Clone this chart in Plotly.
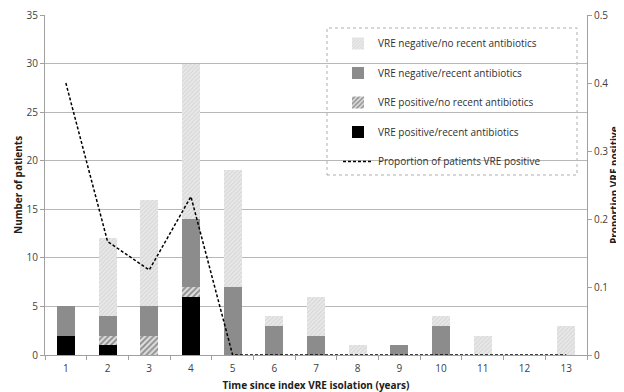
import plotly.graph_objects as go

years = ["1", "2", "3", "4", "5", "6", "7", "8", "9", "10", "11", "12", "13"]
pos_recent = [2, 1, 0, 6, 0, 0, 0, 0, 0, 0, 0, 0, 0]
pos_norecent = [0, 1, 2, 1, 0, 0, 0, 0, 0, 0, 0, 0, 0]
neg_recent = [3, 2, 3, 7, 7, 3, 2, 0, 1, 3, 0, 0, 0]
neg_norecent = [0, 8, 11, 16, 12, 1, 4, 1, 0, 1, 2, 0, 3]
prop_pos = [0.4, 0.167, 0.125, 0.233, 0, 0, 0, 0, 0, 0, 0, 0, 0]

FONT = "Open Sans"
OFF = 8  # default page body margin
W, H = 624 - OFF, 392 - OFF
# plot area in page pixels: x 45..587, y 15..355
L = 45 - OFF
T = 15 - OFF
R = W - (587 - OFF)
B = H - (355 - OFF)
PW, PH = W - L - R, H - T - B


def px_x(x):
    return (x - OFF - L) / PW


def px_y(y):
    return (H - B - (y - OFF)) / PH


fig = go.Figure()

fig.add_trace(go.Bar(
    x=years, y=pos_recent, name="VRE positive/recent antibiotics",
    marker=dict(color="#000000", line=dict(width=0)), legendrank=4, legendgroup="d"))
fig.add_trace(go.Bar(
    x=years, y=pos_norecent, name="VRE positive/no recent antibiotics",
    marker=dict(color="#dcdcdc", line=dict(width=0),
                pattern=dict(shape="/", fgcolor="#3a3a3a", bgcolor="#dcdcdc", size=4, solidity=0.45)),
    legendrank=3, legendgroup="c"))
fig.add_trace(go.Bar(
    x=years, y=neg_recent, name="VRE negative/recent antibiotics",
    marker=dict(color="#8c8c8c", line=dict(width=0)), legendrank=2, legendgroup="b"))
fig.add_trace(go.Bar(
    x=years, y=neg_norecent, name="VRE negative/no recent antibiotics",
    marker=dict(color="#e4e4e4", line=dict(width=0),
                pattern=dict(shape="/", fgcolor="#bdbdbd", bgcolor="#e8e8e8", size=3, solidity=0.3)),
    legendrank=1, legendgroup="a"))
fig.add_trace(go.Scatter(
    x=years, y=prop_pos, yaxis="y2", mode="lines",
    name="Proportion of patients VRE positive",
    line=dict(color="#000000", width=1.5, dash="3px,2px"), legendrank=5, legendgroup="e"))

fig.update_layout(
    width=W, height=H,
    margin=dict(l=L, r=R, t=T, b=B, autoexpand=False),
    paper_bgcolor="white", plot_bgcolor="white",
    barmode="stack", bargap=0.57,
    font=dict(family=FONT, size=10, color="#404040"),
    showlegend=True,
    legend=dict(x=px_x(338), y=px_y(29), xanchor="left", yanchor="top",
                bgcolor="rgba(0,0,0,0)", borderwidth=0,
                font=dict(size=10, color="#303030"), tracegroupgap=10.5,
                itemwidth=30),
    shapes=[dict(type="rect", xref="paper", yref="paper",
                 x0=px_x(327), x1=px_x(577), y0=px_y(175), y1=px_y(28),
                 line=dict(color="#b0b0b0", width=1, dash="dot"),
                 fillcolor="white", layer="below")],
    xaxis=dict(type="category", showline=True, linecolor="#a0a0a0", linewidth=1,
               ticks="outside", tickson="boundaries", ticklen=4, tickcolor="#a0a0a0",
               tickfont=dict(size=10, color="#404040"), automargin=False,
               ticklabelstandoff=4,
               title=dict(text="<b>Time since index VRE isolation (years)</b>",
                          font=dict(size=10, color="#202020"), standoff=7)),
    yaxis=dict(range=[0, 35.0001], tickvals=[0, 5, 10, 15, 20, 25, 30, 35],
               showgrid=True, gridcolor="#b8b8b8", gridwidth=1,
               showline=True, linecolor="#a0a0a0", ticks="outside", ticklen=4,
               tickcolor="#a0a0a0", zeroline=False, automargin=False,
               ticklabeloverflow="allow",
               tickfont=dict(size=10, color="#404040")),
    yaxis2=dict(range=[0, 0.500001], tickvals=[0, 0.1, 0.2, 0.3, 0.4, 0.5],
                ticktext=["0", "0.1", "0.2", "0.3", "0.4", "0.5"],
                overlaying="y", side="right",
                showgrid=False, showline=True, linecolor="#a0a0a0", ticks="outside",
                ticklen=4, tickcolor="#a0a0a0", zeroline=False, automargin=False,
                ticklabeloverflow="allow",
                tickfont=dict(size=10, color="#404040")),
    annotations=[
        dict(text="<b>Number of patients</b>", xref="paper", yref="paper",
             x=px_x(18), y=0.5, xanchor="center", yanchor="middle",
             textangle=-90, showarrow=False,
             font=dict(size=10, color="#202020")),
        dict(text="<b>Proportion VRE positive</b>", xref="paper", yref="paper",
             x=px_x(614), y=0.5, xanchor="center", yanchor="middle",
             textangle=-90, showarrow=False,
             font=dict(size=10, color="#202020")),
    ],
)

fig.write_html("out.html")
